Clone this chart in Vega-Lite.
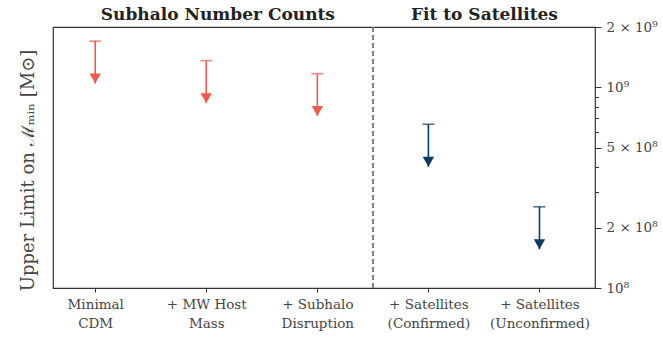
{
  "$schema": "https://vega.github.io/schema/vega-lite/v6.json",
  "width": 542,
  "height": 261,
  "autosize": "none",
  "padding": {"left": 53, "top": 27, "right": 68, "bottom": 49},
  "background": "white",
  "config": {
    "view": {"stroke": "#333333", "strokeWidth": 1.2},
    "font": "DejaVu Serif"
  },
  "data": {
    "values": [
      {"model": "Minimal CDM", "idx": 0, "limit": 1.70e9, "tip": 1.045e9, "group": "Subhalo Number Counts"},
      {"model": "+ MW Host Mass", "idx": 1, "limit": 1.36e9, "tip": 8.35e8, "group": "Subhalo Number Counts"},
      {"model": "+ Subhalo Disruption", "idx": 2, "limit": 1.17e9, "tip": 7.2e8, "group": "Subhalo Number Counts"},
      {"model": "+ Satellites (Confirmed)", "idx": 3, "limit": 6.55e8, "tip": 4.02e8, "group": "Fit to Satellites"},
      {"model": "+ Satellites (Unconfirmed)", "idx": 4, "limit": 2.54e8, "tip": 1.56e8, "group": "Fit to Satellites"}
    ]
  },
  "layer": [
    {
      "mark": {"type": "rule", "strokeDash": [5, 3], "color": "#808080", "strokeWidth": 1.4},
      "encoding": {
        "x": {
          "datum": 2.5,
          "type": "quantitative",
          "scale": {"domain": [-0.38, 4.5], "nice": false, "zero": false},
          "axis": {
            "orient": "top",
            "values": [1.1, 3.5],
            "labelExpr": "datum.value < 2 ? 'Subhalo Number Counts' : 'Fit to Satellites'",
            "labelFont": "DejaVu Serif",
            "labelFontWeight": "bold",
            "labelFontSize": 17,
            "labelColor": "#222222",
            "labelLimit": 500,
            "labelOverlap": false,
            "labelPadding": 4,
            "ticks": false,
            "domain": false,
            "grid": false,
            "title": null
          }
        }
      }
    },
    {
      "mark": {"type": "rule", "strokeWidth": 1.6},
      "encoding": {
        "x": {
          "field": "idx",
          "type": "quantitative",
          "axis": {
            "orient": "bottom",
            "values": [0, 1, 2, 3, 4],
            "labelExpr": "datum.value == 0 ? ['Minimal', 'CDM'] : datum.value == 1 ? ['+ MW Host', 'Mass'] : datum.value == 2 ? ['+ Subhalo', 'Disruption'] : datum.value == 3 ? ['+ Satellites', '(Confirmed)'] : ['+ Satellites', '(Unconfirmed)']",
            "labelFont": "DejaVu Serif",
            "labelFontSize": 13.5,
            "labelColor": "#444444",
            "labelLineHeight": 19,
            "labelOverlap": false,
            "labelPadding": 5,
            "tickSize": 4,
            "tickColor": "#333333",
            "domain": false,
            "grid": false,
            "title": null
          }
        },
        "y": {
          "field": "limit",
          "type": "quantitative",
          "scale": {"type": "log", "domain": [1e8, 2e9], "nice": false},
          "axis": {
            "orient": "right",
            "values": [1e8, 2e8, 3e8, 4e8, 5e8, 6e8, 7e8, 8e8, 9e8, 1e9, 2e9],
            "labelExpr": "datum.value == 2e9 ? '2 × 10⁹' : datum.value == 1e9 ? '10⁹' : datum.value == 5e8 ? '5 × 10⁸' : datum.value == 2e8 ? '2 × 10⁸' : datum.value == 1e8 ? '10⁸' : ''",
            "labelFont": "DejaVu Serif",
            "labelFontSize": 13.5,
            "labelColor": "#444444",
            "labelOverlap": false,
            "labelPadding": 5,
            "tickSize": {"condition": {"test": "datum.value == 1e8 || datum.value == 2e8 || datum.value == 5e8 || datum.value == 1e9 || datum.value == 2e9", "value": 6}, "value": 3.5},
            "tickColor": "#333333",
            "domain": false,
            "grid": false,
            "title": null
          }
        },
        "y2": {"field": "tip"},
        "color": {
          "field": "group",
          "type": "nominal",
          "scale": {"domain": ["Subhalo Number Counts", "Fit to Satellites"], "range": ["#ef5a4b", "#0b3b63"]},
          "legend": null
        }
      }
    },
    {
      "mark": {"type": "tick", "orient": "horizontal", "size": 12, "thickness": 1.6},
      "encoding": {
        "x": {"field": "idx", "type": "quantitative", "axis": null},
        "y": {
          "field": "limit",
          "type": "quantitative",
          "axis": {
            "orient": "left",
            "labels": false,
            "ticks": false,
            "domain": false,
            "grid": false,
            "title": "Upper Limit on ℳₘᵢₙ [M⊙]",
            "titleFont": "DejaVu Serif",
            "titleFontSize": 18,
            "titleFontWeight": "normal",
            "titleColor": "#444444",
            "titlePadding": 16,
            "titleY": 143
          }
        },
        "color": {"field": "group", "type": "nominal", "legend": null}
      }
    },
    {
      "mark": {"type": "point", "shape": "triangle-down", "filled": true, "opacity": 1, "size": 130, "yOffset": -5},
      "encoding": {
        "x": {"field": "idx", "type": "quantitative", "axis": null},
        "y": {"field": "tip", "type": "quantitative", "axis": null},
        "color": {"field": "group", "type": "nominal", "legend": null}
      }
    }
  ]
}
